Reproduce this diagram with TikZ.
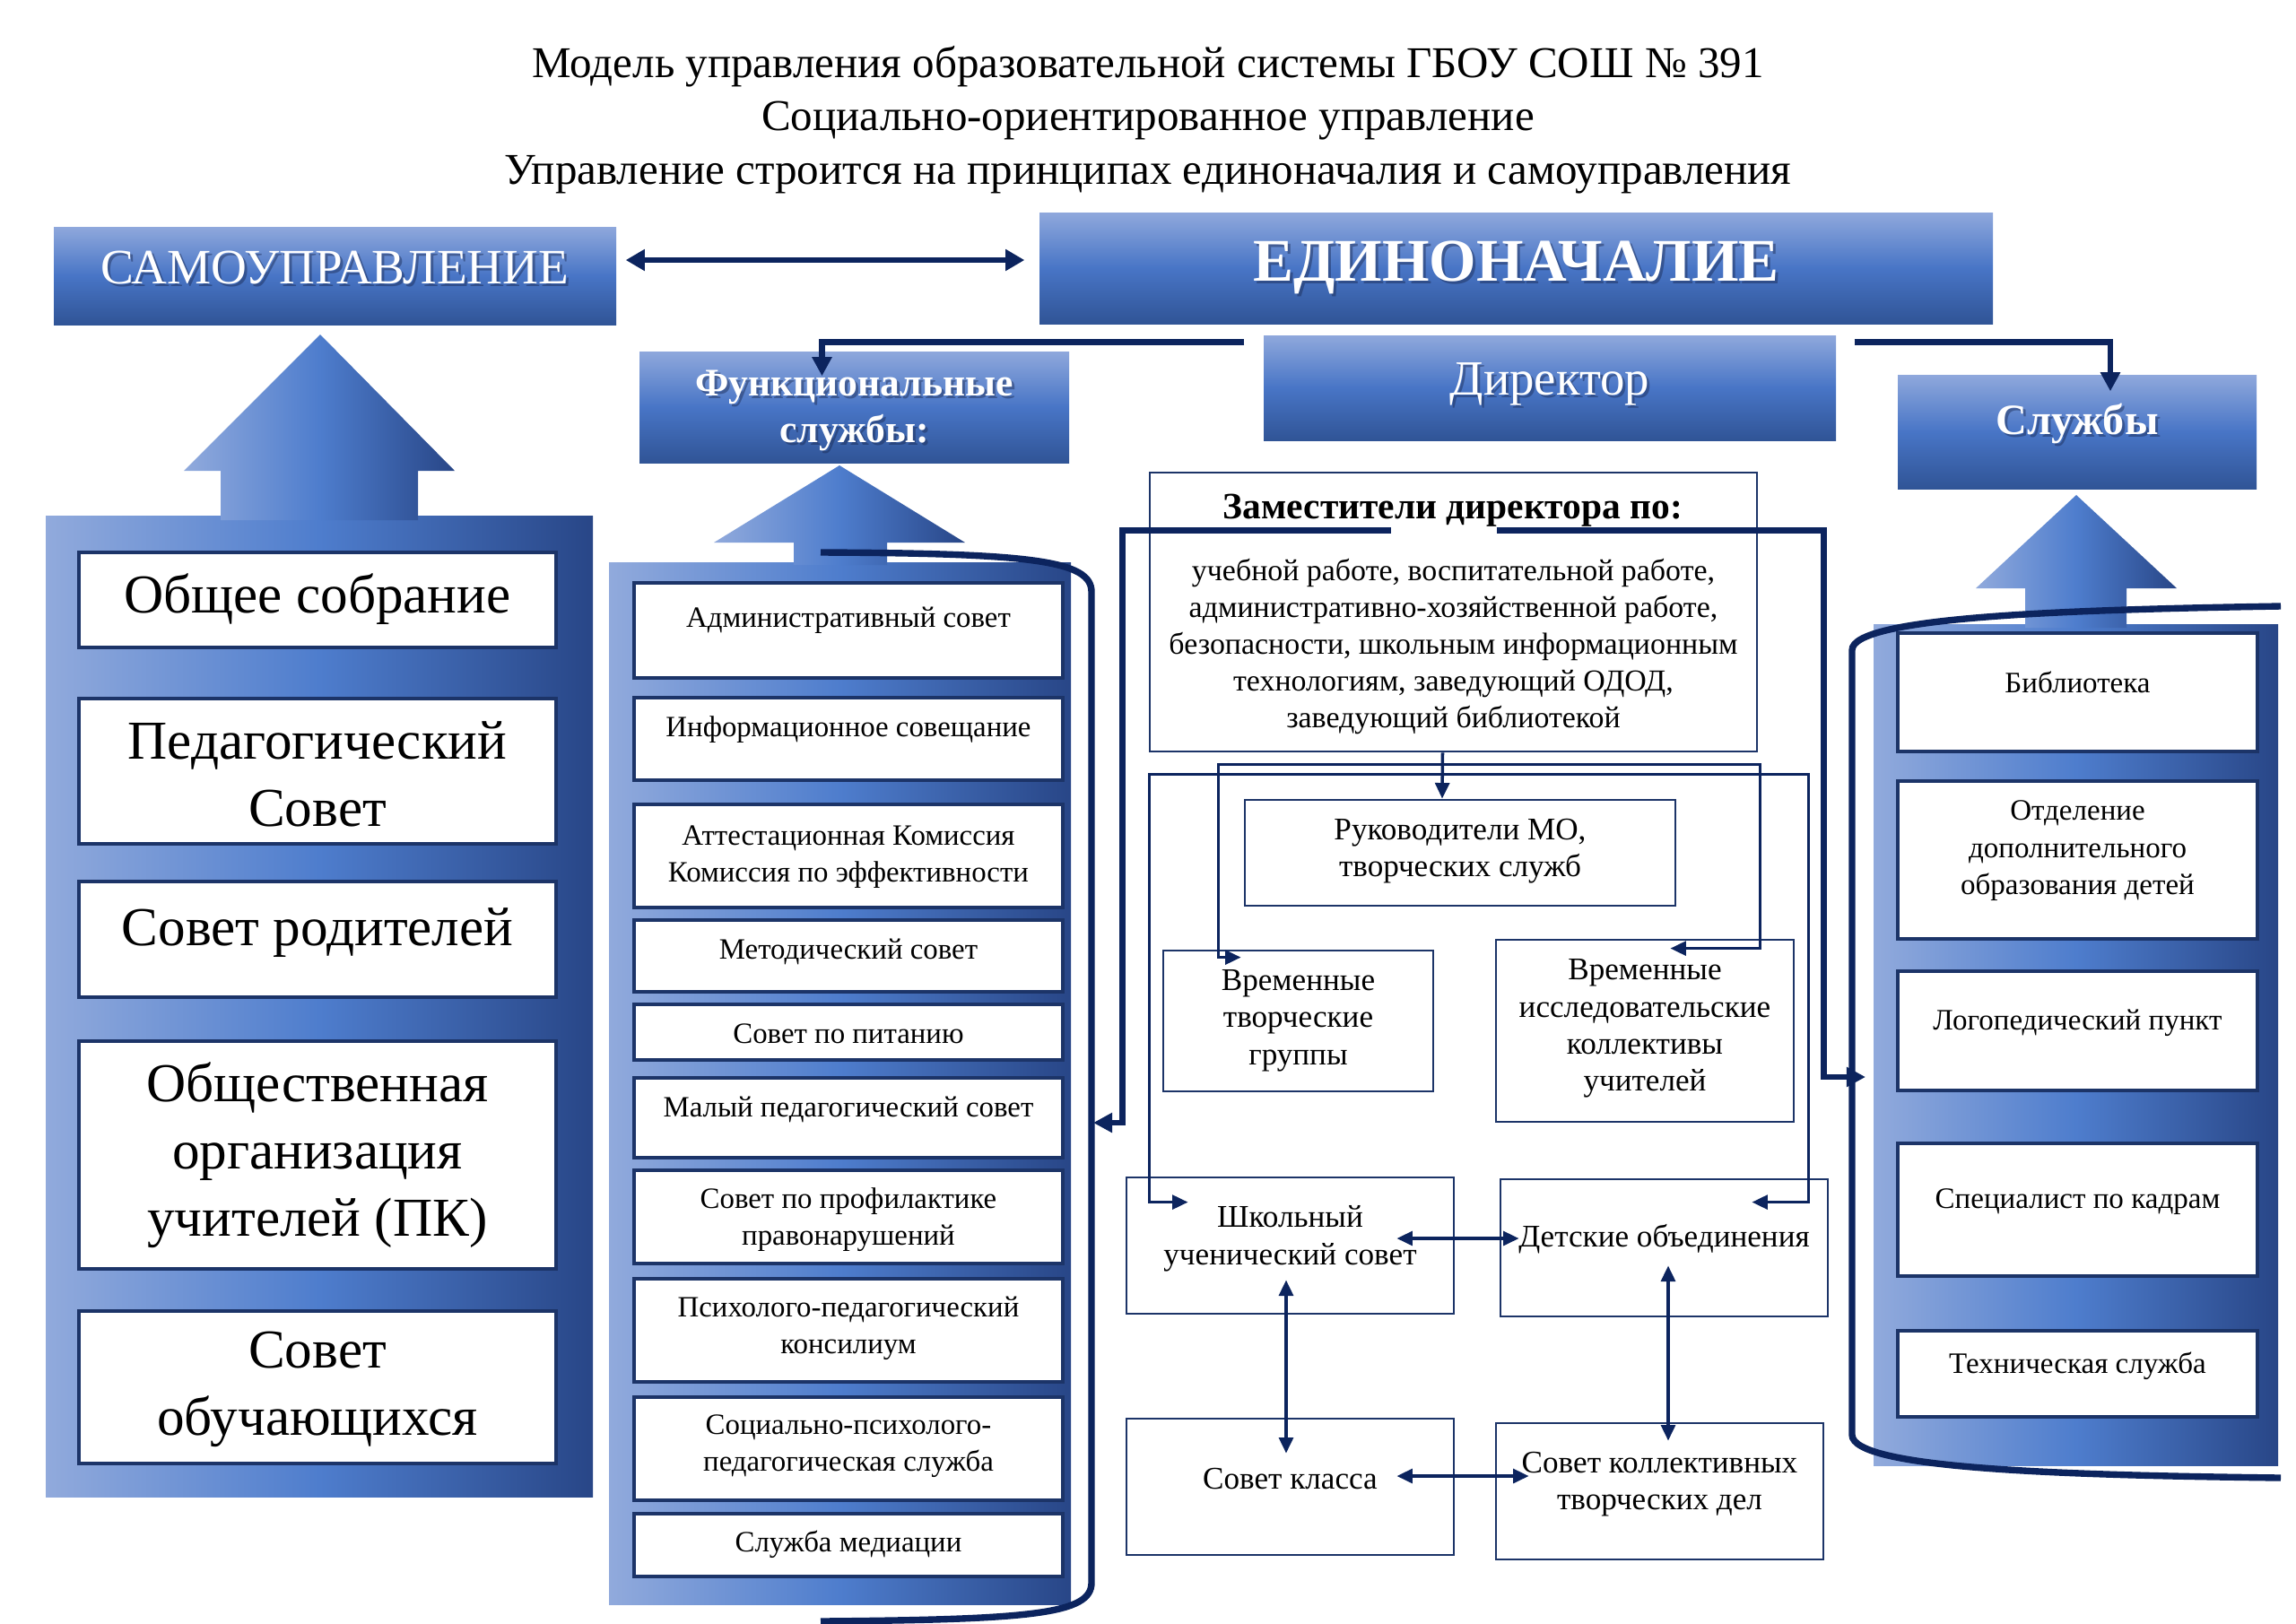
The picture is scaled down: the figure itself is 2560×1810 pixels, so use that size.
\documentclass[tikz,border=0pt]{standalone}
\usepackage{fontspec}
\setmainfont{Liberation Serif}
\usetikzlibrary{arrows.meta,calc}
\definecolor{navy}{RGB}{12,36,94}
\definecolor{bnavy}{RGB}{28,52,104}
\definecolor{hl}{RGB}{143,168,220}
\definecolor{hm}{RGB}{72,117,198}
\definecolor{hd}{RGB}{48,84,150}
\definecolor{gl}{RGB}{145,170,220}
\definecolor{gm}{RGB}{78,125,205}
\definecolor{gd}{RGB}{40,70,135}
\definecolor{shd}{RGB}{25,40,80}
\newcommand\fs[2]{\fontsize{#1}{#2}\selectfont}
\newcommand\tb[9]{%
 \node[#6, minimum width={(#4-#2)*0.1mm}, minimum height={(#5-#3)*0.1mm}] (#1) at ({(#2+#4)/2},{(#3+#5)/2}) {};
 \node[txt,#7] (#1t) at ({(#2+#4)/2},#8) {#9};}
\newcommand\hb[9]{%
 \node[#6, minimum width={(#4-#2)*0.1mm}, minimum height={(#5-#3)*0.1mm}] (#1) at ({(#2+#4)/2},{(#3+#5)/2}) {};
 \node[txt,#7,text=shd,opacity=.45] (#1s) at ({(#2+#4)/2+3},{#8+3}) {#9};
 \node[txt,#7,text=white] (#1t) at ({(#2+#4)/2},#8) {#9};}
\tikzset{
 hdr/.style={inner sep=0, top color=hl, bottom color=hd, middle color=hm},
 pnl/.style={inner sep=0, left color=gl, right color=gd, middle color=gm},
 wbox/.style={draw=bnavy, line width=0.9pt, fill=white, inner sep=0},
 cbox/.style={draw=bnavy, line width=0.8pt, fill=white, inner sep=0},
 txt/.style={align=center, inner sep=0},
 conT/.style={draw=navy, line width=1.8pt},
 conTa/.style={conT, -{Triangle[length=6pt,width=6pt]}},
 conS/.style={draw=navy, line width=1pt},
 conSa/.style={conS, -{Triangle[length=5pt,width=4.5pt]}},
 conSd/.style={conS, {Triangle[length=5pt,width=4.5pt]}-{Triangle[length=5pt,width=4.5pt]}},
 dblT/.style={draw=navy, line width=1.5pt, {Triangle[length=6pt,width=6.5pt]}-{Triangle[length=6pt,width=6.5pt]}},
 brk/.style={draw=navy, line width=2.1pt},
 fL/.style={font=\fs{17.4}{21.3}},
 fM/.style={font=\fs{9.35}{11.7}},
 fR/.style={font=\fs{9.4}{11.8}},
 fC/.style={font=\fs{10}{11.8}},
}
\begin{document}
\begin{tikzpicture}[x=0.1mm,y=-0.1mm]
\useasboundingbox (0,0) rectangle (2560,1810);
\fill[white] (0,0) rectangle (2560,1810);

% titles
\node[txt,font=\fs{13.95}{17.1}] (t1) at (1280,74) {Модель управления образовательной системы ГБОУ СОШ № 391};
\node[txt,font=\fs{13.95}{17.1}] (t2) at (1280,135) {Социально-ориентированное управление};
\node[txt,font=\fs{13.95}{17.1}] (t3) at (1280,195) {Управление строится на принципах единоначалия и самоуправления};

% header boxes
\hb{samo}{60}{253}{687}{362}{hdr}{font=\fs{15.7}{18}}{298}{САМОУПРАВЛЕНИЕ}
\hb{edin}{1159}{237}{2222}{361}{hdr}{font=\bfseries\fs{19.2}{22}}{298}{ЕДИНОНАЧАЛИЕ}
\hb{dir}{1409}{374}{2047}{491}{hdr}{font=\fs{15.6}{18}}{428}{Директор}
\hb{func}{713}{392}{1192}{516}{hdr}{font=\bfseries\fs{12.4}{14.8}}{458}{Функциональные\\службы:}
\hb{sluz}{2116}{418}{2516}{545}{hdr}{font=\bfseries\fs{13.7}{16}}{472}{Службы}

% panels
\node[pnl, minimum width=61mm, minimum height=109.4mm] (pL) at (356,1122) {};
\node[pnl, minimum width=51.5mm, minimum height=116.2mm] (pM) at (936.5,1208) {};
\node[pnl, minimum width=45.1mm, minimum height=93.8mm] (pR) at (2314.5,1165) {};

% block arrows
\shade[pnl] (246,580) -- (246,525) -- (205,525) -- (357,373) -- (507,525) -- (466,525) -- (466,580) -- cycle;
\shade[pnl] (885,630) -- (885,605) -- (796,605) -- (936,519) -- (1076,605) -- (989,605) -- (989,630) -- cycle;
\shade[pnl] (2258,700) -- (2258,656) -- (2203,656) -- (2315,552) -- (2427,656) -- (2371,656) -- (2371,700) -- cycle;

% left boxes
\tb{l1}{88}{616}{620}{722}{wbox}{fL}{668}{Общее собрание}
\tb{l2}{88}{779}{620}{941}{wbox}{fL}{863}{Педагогический\\Совет}
\tb{l3}{88}{983}{620}{1112}{wbox}{fL}{1040}{Совет родителей}
\tb{l4}{88}{1161}{620}{1415}{wbox}{fL}{1288}{Общественная\\организация\\учителей (ПК)}
\tb{l5}{88}{1462}{620}{1632}{wbox}{fL}{1549}{Совет\\обучающихся}

% middle boxes
\tb{m1}{707}{650}{1185}{756}{wbox}{fM}{692}{Административный совет}
\tb{m2}{707}{778}{1185}{870}{wbox}{fM}{814}{Информационное совещание}
\tb{m3}{707}{897}{1185}{1012}{wbox}{fM}{956}{Аттестационная Комиссия\\Комиссия по эффективности}
\tb{m4}{707}{1026}{1185}{1106}{wbox}{fM}{1061}{Методический совет}
\tb{m5}{707}{1120}{1185}{1182}{wbox}{fM}{1153}{Совет по питанию}
\tb{m6}{707}{1202}{1185}{1291}{wbox}{fM}{1237}{Малый педагогический совет}
\tb{m7}{707}{1305}{1185}{1409}{wbox}{fM}{1360}{Совет по профилактике\\правонарушений}
\tb{m8}{707}{1426}{1185}{1541}{wbox}{fM}{1481}{Психолого-педагогический\\консилиум}
\tb{m9}{707}{1558}{1185}{1673}{wbox}{fM}{1613}{Социально-психолого-\\педагогическая служба}
\tb{m10}{707}{1688}{1185}{1758}{wbox}{fM}{1722}{Служба медиации}

% right boxes
\tb{r1}{2116}{706}{2517}{838}{wbox}{fR}{761}{Библиотека}
\tb{r2}{2116}{871}{2517}{1047}{wbox}{fR}{949}{Отделение\\дополнительного\\образования детей}
\tb{r3}{2116}{1083}{2517}{1216}{wbox}{fR}{1141}{Логопедический пункт}
\tb{r4}{2116}{1275}{2517}{1423}{wbox}{fR}{1340}{Специалист по кадрам}
\tb{r5}{2116}{1484}{2517}{1580}{wbox}{fR}{1523}{Техническая служба}

% centre boxes
\tb{zam}{1282}{527}{1959}{838}{cbox}{font=\fs{9.65}{11.7}}{721}{учебной работе, воспитательной работе,\\административно-хозяйственной работе,\\безопасности, школьным информационным\\технологиям, заведующий ОДОД,\\заведующий библиотекой}
\node[txt,font=\bfseries\fs{11.8}{14}] (zamh) at (1620,569) {Заместители директора по:};
\tb{ruk}{1388}{892}{1868}{1010}{cbox}{fC}{949}{Руководители МО,\\творческих служб}
\tb{vtg}{1297}{1060}{1598}{1217}{cbox}{fC}{1138}{Временные\\творческие\\группы}
\tb{vik}{1668}{1048}{2000}{1251}{cbox}{fC}{1147}{Временные\\исследовательские\\коллективы\\учителей}
\tb{shk}{1256}{1313}{1621}{1465}{cbox}{fC}{1381}{Школьный\\ученический совет}
\tb{det}{1673}{1315}{2038}{1468}{cbox}{fC}{1382}{Детские объединения}
\tb{skl}{1256}{1582}{1621}{1734}{cbox}{fC}{1649}{Совет класса}
\tb{skd}{1668}{1587}{2033}{1739}{cbox}{fC}{1655}{Совет коллективных\\творческих дел}

% brackets
\draw[brk] (915,616) .. controls (1150,617) and (1217,625) .. (1217,660) -- (1217,1765) .. controls (1217,1800) and (1150,1806) .. (915,1808);
\draw[brk] (2543,676) .. controls (2300,680) and (2065,688) .. (2065,725) -- (2065,1600) .. controls (2065,1638) and (2300,1645) .. (2543,1648);
\coordinate (mbrA) at (1219,1252);
\coordinate (rbrA) at (2080,1201);

% top connectors
\draw[dblT] ($(samo.east)+(10,-17.5)$) -- ($(edin.west)+(-16,-9)$);
\draw[conTa] ($(dir.west)+(-21,-51)$) -| ($(func.north)+(-36,28)$);
\draw[conTa] ($(dir.east)+(20,-51)$) -| ($(sluz.north)+(37,19)$);

% deputies to brackets
\draw[conTa] ($(zam.north west)+(270,66)$) -- ($(zam.north west)+(-29,66)$) |- (mbrA);
\draw[conTa] ($(zam.north west)+(388,66)$) -- ($(zam.north east)+(73,66)$) |- (rbrA);

% deputies to centre boxes
\draw[conSa] ($(zam.south)+(-12,0)$) -- ($(ruk.north)+(-20,0)$);
\draw[conSa] ($(zam.south)+(-12,13)$) -| ($(vtg.north west)+(63,9)$) -- ($(vtg.north west)+(88,9)$);
\draw[conSa] ($(zam.south)+(-12,13)$) -| ($(vik.north east)+(-39,11)$) -- ($(vik.north east)+(-139,11)$);
\draw[conSa] ($(zam.south)+(-12,24)$) -| ($(shk.north west)+(27,29)$) -- ($(shk.north west)+(70,29)$);
\draw[conSa] ($(zam.south)+(-12,24)$) -| ($(det.north east)+(-23,27)$) -- ($(det.north east)+(-86,27)$);

% pupils' bodies
\draw[conSd] ($(shk.east)+(-65,-8)$) -- ($(det.west)+(22,-10.5)$);
\draw[conSd] ($(shk.south)+(-4.5,-39)$) -- ($(skl.north)+(-4.5,40)$);
\draw[conSd] ($(det.south)+(4.5,-58)$) -- ($(skd.north)+(9.5,21)$);
\draw[conSd] ($(skl.east)+(-65,-12)$) -- ($(skd.west)+(38,-17)$);
\end{tikzpicture}
\end{document}
